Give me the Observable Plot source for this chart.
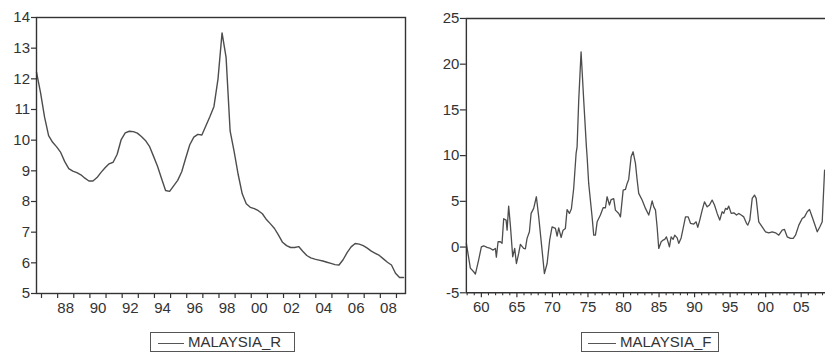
<!DOCTYPE html>
<html>
<head>
<meta charset="utf-8">
<script src="https://cdn.jsdelivr.net/npm/d3@7"></script>
<script src="https://cdn.jsdelivr.net/npm/@observablehq/plot@0.6"></script>
<style>
  html, body { margin: 0; padding: 0; background: #fff; overflow: hidden; }
  #page { position: relative; width: 825px; height: 356px; font-family: "Liberation Sans", Arial, sans-serif; }
  .panel { position: absolute; top: 0; }
  .legend { position: absolute; top: 332px; height: 20px; border: 1px solid #555; box-sizing: border-box;
            font-size: 15px; color: #333; line-height: 18px; white-space: nowrap; }
  .legend .swatch { position: absolute; top: 10px; height: 0; border-top: 1.3px solid #555; }
  .legend .name { position: absolute; top: 0; }
</style>
</head>
<body>
<div id="page">
  <div class="panel" id="left" style="left:0"></div>
  <div class="panel" id="right" style="left:410px"></div>
  <div class="legend" style="left:150px;width:145px"><span class="swatch" style="left:7px;width:26px"></span><span class="name" style="left:37px">MALAYSIA_R</span></div>
  <div class="legend" style="left:581px;width:138px"><span class="swatch" style="left:6px;width:28px"></span><span class="name" style="left:38px">MALAYSIA_F</span></div>
</div>
<script>
// MALAYSIA_R: quarterly, first observation 1986Q3
const rFirst = 1986.69;
const rValues = [
  12.22, 11.55, 10.75, 10.15, 9.93, 9.78, 9.6, 9.3, 9.07, 8.99,
  8.94, 8.87, 8.76, 8.67, 8.67, 8.78, 8.95, 9.1, 9.23, 9.28,
  9.54, 10.02, 10.24, 10.29, 10.28, 10.23, 10.12, 9.99, 9.8, 9.48,
  9.15, 8.75, 8.36, 8.33, 8.51, 8.69, 8.97, 9.42, 9.85, 10.1,
  10.19, 10.17, 10.47, 10.77, 11.1, 12.0, 13.5, 12.7, 10.3, 9.63,
  8.88, 8.25, 7.93, 7.81, 7.77, 7.7, 7.6, 7.41, 7.27, 7.12,
  6.9, 6.67, 6.56, 6.5, 6.5, 6.53, 6.38, 6.24, 6.16, 6.12,
  6.09, 6.06, 6.02, 5.98, 5.94, 5.93, 6.1, 6.33, 6.52, 6.63,
  6.61, 6.56, 6.48, 6.38, 6.31, 6.24, 6.13, 6.02, 5.93, 5.66,
  5.52, 5.52
];
const rDomain = [1986.69, 2009.56];
const rYTicks = [5, 6, 7, 8, 9, 10, 11, 12, 13, 14];
const rYearTicks = d3.range(1987, 2010);
const rLabelYears = [1988, 1990, 1992, 1994, 1996, 1998, 2000, 2002, 2004, 2006, 2008];

// MALAYSIA_F: dates (decimal years) and values
const fYears = [
  1957.89, 1958.45, 1958.92, 1959.16, 1959.62, 1960.0, 1960.32, 1960.8, 1961.27, 1961.65,
  1961.97, 1962.11, 1962.35, 1962.67, 1962.91, 1963.14, 1963.48, 1963.62, 1963.84, 1964.08,
  1964.41, 1964.69, 1964.93, 1965.25, 1965.49, 1965.95, 1966.19, 1966.43, 1966.76, 1967.0,
  1967.36, 1967.74, 1968.07, 1968.54, 1968.87, 1969.25, 1969.61, 1969.95, 1970.42, 1970.66,
  1970.88, 1971.22, 1971.5, 1971.82, 1972.06, 1972.39, 1972.67, 1972.99, 1973.33, 1973.47,
  1973.7, 1974.03, 1974.4, 1974.78, 1974.88, 1975.1, 1975.58, 1975.81, 1976.05, 1976.29,
  1976.75, 1977.13, 1977.46, 1977.69, 1978.02, 1978.26, 1978.62, 1978.86, 1979.33, 1979.57,
  1979.95, 1980.27, 1980.51, 1980.73, 1981.07, 1981.35, 1981.68, 1981.92, 1982.14, 1982.62,
  1983.09, 1983.55, 1983.79, 1984.03, 1984.26, 1984.5, 1984.73, 1984.96, 1985.3, 1985.58,
  1985.8, 1986.04, 1986.22, 1986.46, 1986.7, 1986.98, 1987.21, 1987.55, 1987.77, 1988.11,
  1988.39, 1988.72, 1989.1, 1989.42, 1989.89, 1990.22, 1990.45, 1990.73, 1991.07, 1991.39,
  1991.77, 1992.1, 1992.47, 1992.8, 1993.18, 1993.54, 1993.88, 1994.11, 1994.35, 1994.59,
  1994.81, 1995.15, 1995.52, 1995.9, 1996.22, 1996.56, 1996.92, 1997.3, 1997.49, 1997.77,
  1998.11, 1998.43, 1998.67, 1999.03, 1999.51, 1999.98, 2000.44, 2000.92, 2001.39, 2001.85,
  2002.33, 2002.65, 2003.03, 2003.5, 2003.88, 2004.2, 2004.67, 2005.14, 2005.47, 2005.85,
  2006.17, 2006.45, 2006.78, 2007.26, 2007.62, 2007.96, 2008.29
];
const fValues = [
  0.4, -2.3, -2.7, -2.95, -1.4, 0.03, 0.14, -0.04, -0.15, -0.33,
  -0.15, -1.1, 0.58, 0.58, 0.4, 3.1, 2.95, 1.85, 4.48, 2.4,
  -1.06, -0.15, -1.8, -0.7, 0.3, -0.15, -0.2, 0.95, 1.67, 3.68,
  4.23, 5.5, 3.3, -0.33, -2.9, -1.8, 0.75, 2.2, 2.04, 1.2,
  2.1, 1.05, 1.85, 2.04, 4.1, 3.68, 4.2, 6.4, 10.24, 10.96,
  16.07, 21.35, 16.07, 10.96, 9.87, 6.96, 3.3, 1.3, 1.3, 2.76,
  3.5, 4.3, 4.3, 5.5, 4.6, 5.2, 5.3, 4.04, 3.68, 3.3,
  6.23, 6.3, 6.96, 7.4, 9.87, 10.42, 9.15, 7.33, 5.87, 5.14,
  4.23, 3.5, 4.23, 5.06, 4.4, 4.04, 2.2, -0.15, 0.58, 0.76,
  0.84, 1.12, 0.68, 0.03, 1.12, 0.84, 1.3, 1.0, 0.4, 1.0,
  2.04, 3.3, 3.3, 2.6, 2.52, 2.76, 2.15, 2.95, 4.04, 4.95,
  4.4, 4.6, 5.14, 4.6, 3.68, 2.95, 3.86, 3.68, 4.23, 4.12,
  4.48, 3.68, 3.75, 3.5, 3.68, 3.5, 3.3, 2.6, 2.4, 2.95,
  5.32, 5.68, 5.32, 2.76, 2.2, 1.67, 1.56, 1.67, 1.56, 1.3,
  1.85, 1.93, 1.12, 0.95, 0.95, 1.3, 2.4, 3.13, 3.3, 3.86,
  4.12, 3.5, 2.76, 1.67, 2.2, 2.76, 8.4
];
const fDomain = [1957.89, 2008.42];
const fYTicks = [-5, 0, 5, 10, 15, 20, 25];
const fYearTicks = d3.range(1958, 2009);
const fLabelYears = [1960, 1965, 1970, 1975, 1980, 1985, 1990, 1995, 2000, 2005];

const ink = "#333";
const lineColor = "#4d4d4d";
const yy = y => String(y % 100).padStart(2, "0");
const style = {fontFamily: "'Liberation Sans', Arial, sans-serif", fontSize: "15px", color: ink, background: "transparent", overflow: "visible"};

const rData = rValues.map((v, i) => ({date: rFirst + i / 4, value: v}));
const fData = fYears.map((t, i) => ({date: t, value: fValues[i]}));

const left = Plot.plot({
  width: 410, height: 322,
  marginLeft: 36, marginRight: 5, marginTop: 17, marginBottom: 29,
  x: {domain: rDomain},
  y: {domain: [5, 14]},
  style,
  marks: [
    Plot.axisY({ticks: rYTicks, tickSize: 5, tickPadding: 1.5, tickFormat: d => String(d), label: null, stroke: ink, strokeWidth: 1.2}),
    Plot.axisX({ticks: rYearTicks, tickSize: 5, tickFormat: () => "", label: null, stroke: ink, strokeWidth: 1.2}),
    Plot.axisX({ticks: rLabelYears.map(y => y + 0.5), tickSize: 0, tickPadding: 9, tickFormat: d => yy(Math.floor(d)), label: null}),
    Plot.line(rData, {x: "date", y: "value", stroke: lineColor, strokeWidth: 1.4}),
    Plot.frame({stroke: ink, strokeWidth: 1.4})
  ]
});
document.getElementById("left").appendChild(left);

const right = Plot.plot({
  width: 416, height: 322,
  marginLeft: 56, marginRight: 0, marginTop: 18, marginBottom: 29,
  x: {domain: fDomain},
  y: {domain: [-5, 25]},
  style,
  marks: [
    Plot.axisY({ticks: fYTicks, tickSize: 6, tickPadding: 1, tickFormat: d => String(d), label: null, stroke: ink, strokeWidth: 1.2}),
    Plot.axisX({ticks: fYearTicks.filter(y => y % 5 !== 0), tickSize: 3, tickFormat: () => "", label: null, stroke: ink, strokeWidth: 1.1}),
    Plot.axisX({ticks: fLabelYears, tickSize: 5, tickPadding: 4, tickFormat: d => yy(d), label: null, stroke: ink, strokeWidth: 1.2}),
    Plot.line(fData, {x: "date", y: "value", stroke: lineColor, strokeWidth: 1.3}),
    Plot.ruleY([25], {stroke: ink, strokeWidth: 1.4}),
    Plot.ruleY([-5], {stroke: ink, strokeWidth: 1.4}),
    Plot.ruleX([fDomain[0]], {stroke: ink, strokeWidth: 1.4})
  ]
});
document.getElementById("right").appendChild(right);
</script>
</body>
</html>
